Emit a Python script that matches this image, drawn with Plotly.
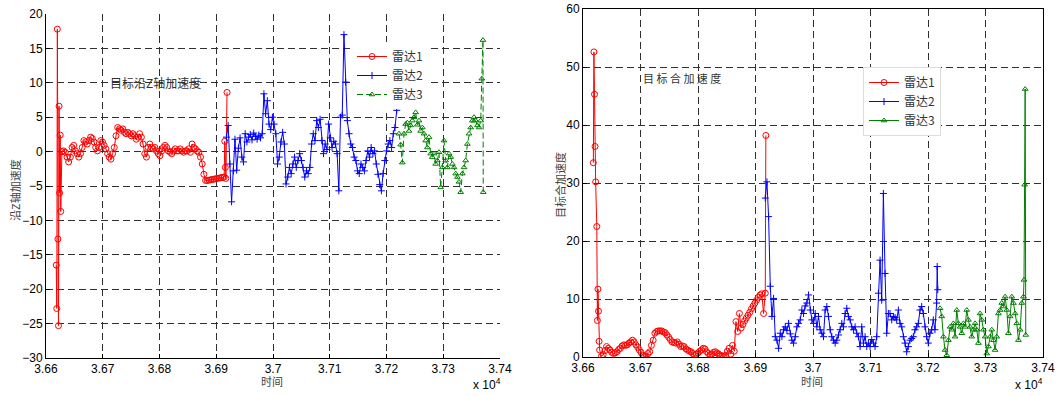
import numpy as np
import plotly.graph_objects as go
from plotly.subplots import make_subplots

# ---------------- Z-axis acceleration (left panel) ----------------
z_r1_spike_t = [36618, 36619, 36620, 36621, 36622, 36623, 36624, 36625, 36626, 36628]
z_r1_spike_v = [-16.5, -22.8, 17.8, -12.7, -25.3, 6.6, -6.0, 2.4, -8.7, 0.0]
z_r1_main_v = [
    0.1, -0.1, -0.8, -1.5, -0.8, 0.6, 0.9, 0.1, -0.3, -0.8, -0.3, 0.6, 1.6, 1.4, 1.1, 1.6,
    2.1, 1.9, 1.4, 0.6, 0.1, 0.6, 1.6, 1.4, 0.9, 0.4, -0.3, -0.8, -1.1, -0.3, 0.6, 2.3,
    3.5, 3.3, 3.1, 3.3, 2.8, 2.6, 2.8, 2.6, 2.3, 2.6, 2.3, 1.8, 2.1, 2.6, 2.1, 1.1,
    -0.3, -0.8, 0.6, 1.1, 0.6, 0.4, 0.6, 0.1, -0.3, -0.6, 0.1, 0.6, 0.9, 0.6, 0.1, -0.1,
    -0.3, 0.1, 0.4, 0.1, 0.1, 0.4, 0.1, -0.1, 0.1, 0.1, 0.4, -0.1, 1.1, 0.6, 0.4, 0.1,
    -0.1, -0.8, -1.8, -3.3,
    -4.2, -4.2, -4.15, -4.1, -4.05, -4.0, -3.95, -3.9, -3.85, -3.8, -3.75, -3.7,
]
z_r1_main_span = (36631, 36914)
z_r1_tail_t = [36915, 36916, 36917, 36919]
z_r1_tail_v = [1.5, -2.3, -3.9, 8.6]

z_r2_v = [
    2.1, 3.8, -1.8, -7.3, -2.8, 1.8, -2.7, 0.5, 2.0, -0.8, -1.5, 2.6, 1.4, 2.1, 2.5, 1.7,
    2.7, 2.2, 1.8, 2.4, 2.0, 2.6, 8.4, 5.5, 7.4, 4.0, 3.2, 5.0, 4.0, 2.6, -1.8, -0.8,
    1.4, 2.8, 1.1, -4.7, -3.7, -2.3, -3.2, -1.8, -0.8, -2.3, -1.3, -0.3, -1.3, -2.3, -3.7,
    -2.8, -3.2, -2.3, 1.1, 2.6, 1.6, 4.5, 3.5, 4.7, 1.6, -0.3, 1.1, 0.3, 4.0, 2.0, 0.6,
    1.5, 1.1, -0.3, -5.7, 5.0, 5.3, 17.0, 10.1, 4.5, 2.6, 1.1, 0.6, -0.8, -1.3, -2.8,
    -3.2, -1.8, -2.3, -2.8, -1.3, 0.1, -0.8, 0.6, -0.3, 0.1, -1.8, -3.3, -4.8, -5.7,
    -3.2, -1.3, 0.1, 1.1, 1.6, 0.6, 2.6, 3.5, 6.0,
]
z_r2_span = (36918, 37218)

z_r3_v = [
    2.6, 1.0, -1.6, 2.6, 4.0, 4.2, 3.0, 3.8, 4.5, 5.0, 5.7, 3.9, 4.5, 3.0, 3.5, 2.6,
    1.6, 0.6, 2.1, -0.3, -0.8, -0.3, -1.8, -1.3, -0.1, -5.2, -2.3, 1.6, -1.3, -2.3,
    -0.3, -0.8, -1.8, -2.3, -3.2, -3.7, -4.4, -5.9, -3.2, -2.3, -1.3, 1.1, 2.6, 3.5,
    4.5, 5.0, 4.5, 3.8, 3.5, 4.5,
]
z_r3_span = (37222, 37366)
z_r3_tail_t = [37368, 37370, 37370.5]
z_r3_tail_v = [10.6, 16.2, -5.9]

# ---------------- total acceleration (right panel) ----------------
a_r1_spike_t = [36618, 36619, 36620, 36621, 36622, 36624, 36625, 36626, 36627, 36628]
a_r1_spike_v = [33.5, 52.6, 45.3, 36.3, 30.2, 22.5, 6.3, 11.7, 7.9, 2.7]
a_r1_main_v = [
    1.2, 0.1, 0.4, 1.1, 1.8, 1.5, 1.2, 0.8, 0.6, 0.7, 0.9, 1.3, 1.5, 1.9, 2.1, 2.0,
    2.1, 2.4, 2.6, 2.9, 2.6, 2.1, 1.7, 1.2, 0.8, 0.3, 0.1, 0.05, 0.6, 0.9, 2.0, 2.9,
    4.1, 4.4, 4.5, 4.5, 4.5, 4.3, 4.2, 3.8, 3.4, 3.0, 2.6, 2.5, 2.4, 2.6, 2.2, 1.8,
    1.9, 1.8, 1.4, 1.2, 1.0, 0.9, 0.6, 0.3, 0.5, 0.7, 1.0, 1.2, 1.5, 1.4, 0.9, 0.6,
    0.4, 0.5, 0.8, 0.9, 0.7, 0.5, 0.3, 0.2, 0.05, 0.3, 1.0, 1.5, 0.5, 2.0, 1.0, 6.1,
    4.4, 7.5, 5.0, 5.6, 6.2, 6.7, 7.2, 7.7, 8.3, 8.8, 9.3, 9.8, 10.3, 10.7, 10.9, 7.5,
    11.0,
]
a_r1_main_span = (36629, 36917)
a_r1_tail_t = [36918]
a_r1_tail_v = [38.2]

a_r2_v = [
    27.4, 30.2, 24.2, 12.2, 7.0, 10.1, 3.5, 2.9, 1.5, 4.1, 3.5, 4.7, 5.2, 4.6, 5.8, 4.0,
    2.9, 2.4, 3.5, 5.2, 5.8, 6.4, 8.1, 7.5, 8.8, 9.3, 10.7, 8.1, 6.4, 5.8, 7.5, 5.2,
    7.0, 4.7, 4.1, 3.5, 8.1, 8.7, 7.0, 4.7, 3.5, 2.9, 2.4, 2.9, 3.8, 4.7, 5.8, 5.2,
    7.5, 8.4, 7.0, 6.4, 5.2, 4.7, 5.2, 4.1, 3.5, 1.8, 5.2, 2.4, 3.5, 1.8, 2.4, 1.8,
    3.0, 2.4, 1.8, 3.5, 11.0, 16.7, 9.8, 28.2, 14.4, 4.1, 7.5, 7.5, 6.4, 7.0, 6.8, 6.4,
    8.1, 5.8, 5.2, 3.5, 2.4, 0.9, 1.8, 2.9, 3.2, 3.5, 4.7, 5.2, 5.8, 8.1, 8.7, 7.5,
    5.2, 3.5, 2.4, 4.1, 4.7, 6.4, 4.7, 9.3,
]
a_r2_span = (36917, 37215)
a_r2_tail_t = [37216, 37217]
a_r2_tail_v = [15.6, 11.6]

a_r3_v = [
    8.4, 7.0, 3.5, 1.2, 0.3, 2.9, 5.2, 4.7, 5.8, 3.5, 8.1, 5.8, 5.2, 4.1, 5.8, 5.2,
    8.1, 6.4, 5.2, 3.5, 4.7, 5.8, 4.7, 2.4, 7.5, 6.4, 4.7, 3.5, 0.6, 1.8, 3.5, 4.7,
    2.9, 1.2, 3.5, 7.5, 8.1, 9.3, 8.7, 10.4, 8.1, 4.1, 7.0, 10.4, 9.3, 7.5, 5.8, 2.9,
    4.7, 9.3, 10.4,
]
a_r3_span = (37221, 37366)
a_r3_tail_t = [37367, 37368, 37369, 37370]
a_r3_tail_v = [13.3, 29.7, 46.2, 3.8]

# ---------------- axis ticks ----------------
x_tickvals = [36600, 36700, 36800, 36900, 37000, 37100, 37200, 37300, 37400]
x_ticktext = ["3.66", "3.67", "3.68", "3.69", "3.7", "3.71", "3.72", "3.73", "3.74"]
z_tickvals = [-30, -25, -20, -15, -10, -5, 0, 5, 10, 15, 20]
a_tickvals = [0, 10, 20, 30, 40, 50, 60]

legend_names = ["雷达1", "雷达2", "雷达3"]


def sampled(span, values):
    return np.linspace(span[0], span[1], len(values))


def join(*parts):
    t = np.concatenate([np.asarray(p[0], dtype=float) for p in parts])
    v = np.concatenate([np.asarray(p[1], dtype=float) for p in parts])
    return t, v


z1_t, z1_v = join((z_r1_spike_t, z_r1_spike_v),
                  (sampled(z_r1_main_span, z_r1_main_v), z_r1_main_v),
                  (z_r1_tail_t, z_r1_tail_v))
z2_t, z2_v = sampled(z_r2_span, z_r2_v), np.array(z_r2_v)
z3_t, z3_v = join((sampled(z_r3_span, z_r3_v), z_r3_v), (z_r3_tail_t, z_r3_tail_v))

a1_t, a1_v = join((a_r1_spike_t, a_r1_spike_v),
                  (sampled(a_r1_main_span, a_r1_main_v), a_r1_main_v),
                  (a_r1_tail_t, a_r1_tail_v))
a2_t, a2_v = join((sampled(a_r2_span, a_r2_v), a_r2_v), (a_r2_tail_t, a_r2_tail_v))
a3_t, a3_v = join((sampled(a_r3_span, a_r3_v), a_r3_v), (a_r3_tail_t, a_r3_tail_v))

RED, BLUE, GREEN = "#ff0000", "#0000ff", "#008000"
LAT = "Liberation Sans, Arial, Noto Sans CJK SC, sans-serif"
CJK = "Noto Sans CJK SC, Liberation Sans, sans-serif"

fig = make_subplots(rows=1, cols=2)


def style(color, symbol, size, dash="solid"):
    return dict(
        mode="lines+markers",
        line=dict(color=color, width=1, dash=dash),
        marker=dict(symbol=symbol, size=size, color=color,
                    line=dict(color=color, width=1)),
    )


series_left = [(z1_t, z1_v, RED, "circle-open", 6, "solid"),
               (z2_t, z2_v, BLUE, "cross-thin", 5, "solid"),
               (z3_t, z3_v, GREEN, "triangle-up-open", 5, "6px,3px")]
series_right = [(a1_t, a1_v, RED, "circle-open", 6, "solid"),
                (a2_t, a2_v, BLUE, "cross-thin", 5, "solid"),
                (a3_t, a3_v, GREEN, "triangle-up-open", 5, "solid")]

for name, (t, v, c, sym, sz, dash) in zip(legend_names, series_left):
    fig.add_trace(go.Scatter(x=t, y=v, name=name, legend="legend",
                             **style(c, sym, sz, dash)), row=1, col=1)
for name, (t, v, c, sym, sz, dash) in zip(legend_names, series_right):
    fig.add_trace(go.Scatter(x=t, y=v, name=name, legend="legend2",
                             **style(c, sym, sz, dash)), row=1, col=2)

W, H = 1059, 396
L_dom_x = [46 / W, 500 / W]
L_dom_y = [1 - 358 / H, 1 - 14 / H]
R_dom_x = [583 / W, 1043 / W]
R_dom_y = [1 - 357 / H, 1 - 9 / H]

grid = dict(showgrid=True, gridcolor="#303030", gridwidth=1, griddash="7px,4px",
            zeroline=False, ticks="inside", ticklen=4, tickcolor="black",
            tickfont=dict(family=LAT, size=12, color="black"),
            linecolor="black", linewidth=1, showline=True, automargin=False)

fig.update_xaxes(domain=L_dom_x, range=[36600, 37400], tickvals=x_tickvals,
                 ticktext=x_ticktext, mirror=False, **grid, row=1, col=1)
fig.update_yaxes(domain=L_dom_y, range=[-30, 20], tickvals=z_tickvals,
                 mirror=False, **grid, row=1, col=1)
fig.update_xaxes(domain=R_dom_x, range=[36600, 37400], tickvals=x_tickvals,
                 ticktext=x_ticktext, mirror=True, **grid, row=1, col=2)
fig.update_yaxes(domain=R_dom_y, range=[0, 60], tickvals=a_tickvals,
                 mirror=True, **grid, row=1, col=2)

txt = dict(showarrow=False, xref="paper", yref="paper",
           xanchor="center", yanchor="middle")
annotations = [
    dict(text="目标沿Z轴加速度", x=155 / W, y=1 - 83 / H,
         font=dict(family=CJK, size=12, color="#333333"), **txt),
    dict(text="目 标 合 加 速 度", x=682 / W, y=1 - 78 / H,
         font=dict(family=CJK, size=11, color="#333333"), **txt),
    dict(text="沿Z轴加速度", x=15 / W, y=1 - 190 / H, textangle=-90,
         font=dict(family=CJK, size=11, color="#444444"), **txt),
    dict(text="目标合加速度", x=560 / W, y=1 - 185 / H, textangle=-90,
         font=dict(family=CJK, size=11, color="#444444"), **txt),
    dict(text="时间", x=272 / W, y=1 - 381 / H,
         font=dict(family=CJK, size=11, color="#444444"), **txt),
    dict(text="时间", x=812 / W, y=1 - 381 / H,
         font=dict(family=CJK, size=11, color="#444444"), **txt),
    dict(text="x 10<sup>4</sup>", x=487 / W, y=1 - 384 / H,
         font=dict(family=LAT, size=12, color="black"), **txt),
    dict(text="x 10<sup>4</sup>", x=1029 / W, y=1 - 384 / H,
         font=dict(family=LAT, size=12, color="black"), **txt),
]

fig.update_layout(
    width=W, height=H, margin=dict(l=0, r=0, t=0, b=0, autoexpand=False),
    paper_bgcolor="white", plot_bgcolor="white",
    showlegend=True,
    annotations=annotations,
    legend=dict(x=352 / W, y=1 - 42 / H, xanchor="left", yanchor="top",
                bgcolor="white", borderwidth=0,
                font=dict(family=CJK, size=12, color="#333333"),
                tracegroupgap=0, itemwidth=30),
    legend2=dict(x=863 / W, y=1 - 67 / H, xanchor="left", yanchor="top",
                 bgcolor="white", bordercolor="#dddddd", borderwidth=1,
                 font=dict(family=CJK, size=12, color="#333333"),
                 tracegroupgap=0, itemwidth=30),
)

fig.write_html("out.html")
